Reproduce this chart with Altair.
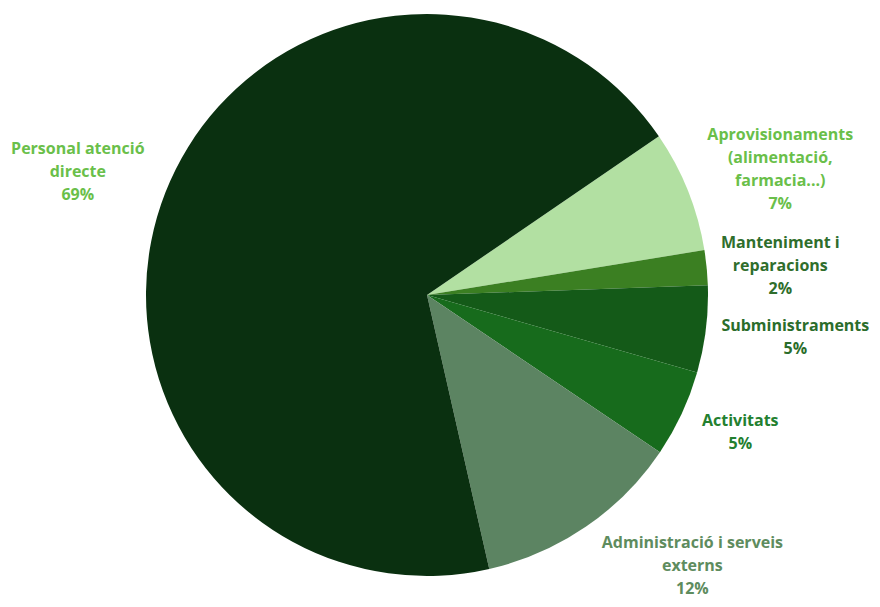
import math
import altair as alt
import pandas as pd

categories = [
    "Aprovisionaments",
    "Manteniment i reparacions",
    "Subministraments",
    "Activitats",
    "Administració i serveis externs",
    "Personal atenció directe",
]
values = [7, 2, 5, 5, 12, 69]
labels = [
    "Aprovisionaments\n(alimentació,\nfarmacia...)\n7%",
    "Manteniment i\nreparacions\n2%",
    "Subministraments\n5%",
    "Activitats\n5%",
    "Administració i serveis\nexterns\n12%",
    "Personal atenció\ndirecte\n69%",
]
slice_colors = ["#b2e0a2", "#3b7f22", "#145a18", "#176b1c", "#5c8462", "#0a3010"]
label_colors = ["#6abf4a", "#2f6e2c", "#2b6d2b", "#23802f", "#5e8c5e", "#6abf4a"]
# per-label nudges (dx, dy) from the slice mid-angle position
nudges = [(19, -26), (-5, -17), (11, -13), (-13, -26), (62, -49), (-14, -15)]

df = pd.DataFrame({
    "cat": categories,
    "val": values,
    "label": labels,
    "ord": list(range(len(categories))),
})

start = math.radians(55.6)
theta_scale = alt.Scale(range=[start, start + 2 * math.pi])
CX, CY = 419, 287

base = alt.Chart(df).encode(
    theta=alt.Theta("val:Q", stack=True, scale=theta_scale),
    order=alt.Order("ord:Q"),
)

pie = base.mark_arc(radius=281).encode(
    color=alt.Color("cat:N", scale=alt.Scale(domain=categories, range=slice_colors), legend=None),
    x=alt.value(CX),
    y=alt.value(CY),
)

layers = [pie]
for i, cat in enumerate(categories):
    dx, dy = nudges[i]
    t = base.mark_text(
        radius=360, dx=dx, dy=dy, lineBreak="\n", font="Open Sans", fontWeight="bold",
        fontSize=16, lineHeight=23, align="center", baseline="middle",
        color=label_colors[i],
    ).encode(
        text="label:N",
        x=alt.value(CX),
        y=alt.value(CY),
        opacity=alt.condition(alt.datum.cat == cat, alt.value(1), alt.value(0)),
    )
    layers.append(t)

chart = alt.layer(*layers).properties(
    width=864, height=591, padding=0, autosize=alt.AutoSizeParams(type="none")
).configure_view(stroke=None)

chart.save("out.html", embed_options={"renderer": "svg", "actions": False})
